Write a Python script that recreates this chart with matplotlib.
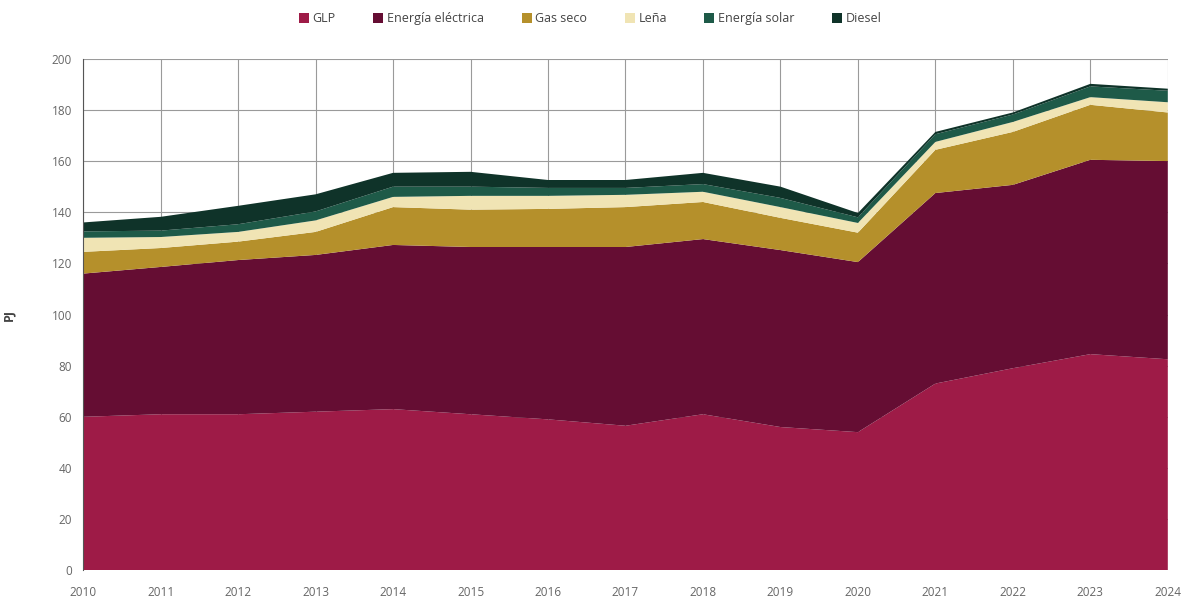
import matplotlib
matplotlib.use("Agg")
import matplotlib.pyplot as plt
from matplotlib.patches import Patch

plt.rcParams['font.family'] = ['Open Sans', 'DejaVu Sans']

years = list(range(2010, 2025))
series_names = ['GLP', 'Energía eléctrica', 'Gas seco', 'Leña', 'Energía solar', 'Diesel']

# PJ por fuente
glp = [60, 61, 61, 62, 63, 61, 59, 56.5, 61, 56, 54, 73, 79, 84.5, 82.5]
electricidad = [56, 57.6, 60.3, 61.3, 64.2, 65.4, 67.4, 69.9, 68.5, 69.2, 66.5, 74.5, 71.7, 76, 77.5]
gas_seco = [8.5, 7.4, 7.2, 9.0, 14.8, 14.6, 14.9, 15.6, 14.5, 12.6, 11.5, 16.9, 20.7, 21.5, 19]
lena = [5.5, 4.3, 3.8, 4.5, 4.0, 5.4, 5.1, 4.8, 4.0, 4.2, 3.8, 3.1, 3.9, 3.0, 4.0]
solar = [2.5, 2.5, 3.0, 3.5, 4.0, 3.6, 3.1, 2.7, 3.0, 3.6, 2.2, 3.0, 2.9, 4.2, 4.5]
diesel = [3.5, 5.4, 7.2, 6.7, 5.4, 5.8, 3.1, 3.1, 4.4, 4.4, 1.7, 0.9, 0.8, 1.0, 0.8]

colors = ['#9E1B47', '#650D33', '#B5902B', '#F0E4B4', '#1E5A48', '#0F3329']

fig = plt.figure(figsize=(11.88, 6.06), dpi=100)
ax = fig.add_axes([0.07, 0.059, 0.913, 0.844])

ax.stackplot(years, glp, electricidad, gas_seco, lena, solar, diesel,
             colors=colors, linewidth=0, zorder=2)

ax.set_xlim(2010, 2024)
ax.set_ylim(0, 200)
ax.set_xticks(years)
ax.set_yticks(range(0, 201, 20))
ax.grid(True, color='#9a9a9a', linewidth=0.8, zorder=0)
ax.set_axisbelow(True)
for side in ['top', 'right', 'bottom']:
    ax.spines[side].set_visible(False)
ax.spines['left'].set_color('#555555')
ax.tick_params(axis='both', length=0, labelsize=8.5, colors='#666666')
ax.tick_params(axis='x', pad=11)
ax.tick_params(axis='y', pad=8)
ax.set_ylabel('PJ', fontsize=9, color='#444444', fontweight='bold', labelpad=26)

handles = [Patch(facecolor=c, edgecolor='none') for c in colors]
fig.legend(handles, series_names, loc='upper center', bbox_to_anchor=(0.497, 0.998),
           ncol=6, frameon=False, fontsize=9, handlelength=0.8, handleheight=0.8,
           handletextpad=0.3, columnspacing=3.0, labelcolor='#444444')

fig.savefig('out.png', dpi=100)
